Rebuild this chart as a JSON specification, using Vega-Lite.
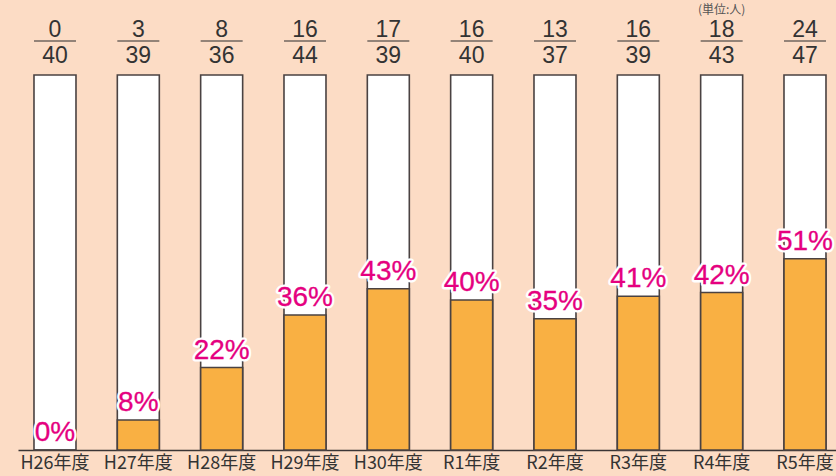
{
  "$schema": "https://vega.github.io/schema/vega-lite/v6.json",
  "autosize": "none",
  "width": 818,
  "height": 450,
  "padding": {"left": 18, "top": 0, "right": 0, "bottom": 26},
  "background": "#FCDCC5",
  "config": {"view": {"stroke": null}},
  "data": {
    "values": [
      {"year": "H26年度", "n": 0, "d": 40, "pct": 0.00},
      {"year": "H27年度", "n": 3, "d": 39, "pct": 0.08},
      {"year": "H28年度", "n": 8, "d": 36, "pct": 0.22},
      {"year": "H29年度", "n": 16, "d": 44, "pct": 0.36},
      {"year": "H30年度", "n": 17, "d": 39, "pct": 0.43},
      {"year": "R1年度", "n": 16, "d": 40, "pct": 0.40},
      {"year": "R2年度", "n": 13, "d": 37, "pct": 0.35},
      {"year": "R3年度", "n": 16, "d": 39, "pct": 0.41},
      {"year": "R4年度", "n": 18, "d": 43, "pct": 0.42},
      {"year": "R5年度", "n": 24, "d": 47, "pct": 0.51}
    ]
  },
  "encoding": {
    "x": {
      "field": "year", "type": "nominal", "sort": null,
      "scale": {"paddingInner": 0.496, "paddingOuter": 0.156, "align": 0.615},
      "axis": {"title": null, "ticks": false, "labelAngle": 0, "labelPadding": 4,
        "labelFont": "Noto Sans CJK JP", "labelFontSize": 18, "labelColor": "#333333",
        "domainColor": "#3a3535", "domainWidth": 1.6, "grid": false}
    }
  },
  "layer": [
    {
      "mark": {"type": "bar", "fill": "#FFFFFF", "stroke": "#4a4242", "strokeWidth": 1.6},
      "encoding": {
        "y": {"datum": 1, "type": "quantitative", "scale": {"domain": [0, 1.2], "nice": false}, "axis": null},
        "y2": {"datum": 0}
      }
    },
    {
      "mark": {"type": "bar", "fill": "#F9B043", "stroke": "#4a4242", "strokeWidth": 1.6},
      "encoding": {
        "y": {"field": "pct", "type": "quantitative"},
        "y2": {"datum": 0}
      }
    },
    {
      "mark": {"type": "tick", "size": 42, "thickness": 1.6, "color": "#333333"},
      "encoding": {"y": {"datum": 1.0907, "type": "quantitative"}}
    },
    {
      "mark": {"type": "text", "font": "Liberation Sans", "fontSize": 23, "color": "#333333", "baseline": "alphabetic"},
      "encoding": {"y": {"datum": 1.102, "type": "quantitative"}, "text": {"field": "n"}}
    },
    {
      "mark": {"type": "text", "font": "Liberation Sans", "fontSize": 23, "color": "#333333", "baseline": "alphabetic"},
      "encoding": {"y": {"datum": 1.031, "type": "quantitative"}, "text": {"field": "d"}}
    },
    {
      "mark": {"type": "text", "font": "Liberation Sans", "fontSize": 28, "baseline": "alphabetic", "dy": -9,
        "fill": "#FFFFFF", "stroke": "#FFFFFF", "strokeWidth": 5, "strokeJoin": "round"},
      "encoding": {"y": {"field": "pct", "type": "quantitative"}, "text": {"field": "pct", "type": "quantitative", "format": ".0%"}}
    },
    {
      "mark": {"type": "text", "font": "Liberation Sans", "fontSize": 28, "baseline": "alphabetic", "dy": -9,
        "fill": "#E5007F", "stroke": "#E5007F", "strokeWidth": 0.3},
      "encoding": {"y": {"field": "pct", "type": "quantitative"}, "text": {"field": "pct", "type": "quantitative", "format": ".0%"}}
    },
    {
      "data": {"values": [{"note": "(単位:人)"}]},
      "mark": {"type": "text", "font": "Noto Sans CJK JP", "fontSize": 12, "color": "#555555", "baseline": "alphabetic"},
      "encoding": {"x": {"datum": "R4年度"}, "y": {"datum": 1.1627, "type": "quantitative"}, "text": {"field": "note"}}
    }
  ]
}
